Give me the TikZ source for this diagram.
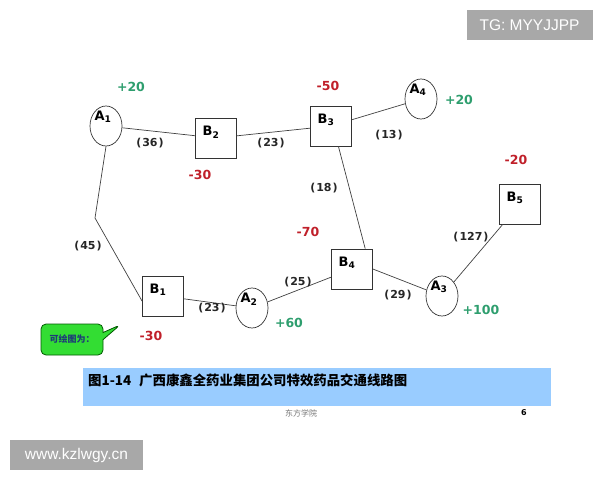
\documentclass[tikz,border=0pt]{standalone}
\usepackage{fontspec}
\setmainfont{DejaVu Sans}
\newfontfamily\cjk{Noto Sans CJK SC}
\newfontfamily\arialf{Liberation Sans}
\usetikzlibrary{shapes.geometric,shapes.callouts}
\definecolor{pgreen}{RGB}{46,158,110}
\definecolor{pred}{RGB}{192,32,42}
\definecolor{capblue}{RGB}{153,204,255}
\definecolor{wmgray}{RGB}{168,168,168}
\definecolor{callgreen}{RGB}{51,221,51}
\definecolor{calltext}{RGB}{30,60,120}
\newcommand{\distval}[1]{(\kern1pt#1\kern1pt)}
\begin{document}
\begin{tikzpicture}[x=1pt,y=-1pt,
  lblf/.style={font=\bfseries\fontsize{13}{13}\selectfont, inner sep=0pt},
  sq/.style={draw=black!80, line width=0.7pt, minimum width=41pt, minimum height=40pt, inner sep=0pt,
     label={[lblf, xshift=-5pt, yshift=6pt]center:#1}},
  el/.style={ellipse, draw=black!80, line width=0.7pt, minimum width=32pt, minimum height=40pt, inner sep=0pt,
     label={[lblf, xshift=-3pt, yshift=9pt]center:#1}},
  numtxt/.style={font=\bfseries\fontsize{12.5}{13}\selectfont, inner sep=0pt},
  plusnum/.style={numtxt, text=pgreen},
  minusnum/.style={numtxt, text=pred},
  dist/.style={font=\bfseries\fontsize{11}{11}\selectfont, text=black!85, inner sep=0pt},
  edgeline/.style={draw=black!75, line width=0.7pt},
  wm/.style={fill=wmgray, text=white, inner sep=0pt, font=\arialf\fontsize{15.5}{16}\selectfont}
]
\useasboundingbox (0,0) rectangle (600,480);
% nodes
\node[el={A\textsubscript{1}}] (A1) at (106,126) {};
\node[sq={B\textsubscript{2}}] (B2) at (216,138) {};
\node[sq={B\textsubscript{3}}] (B3) at (331,126) {};
\node[el={A\textsubscript{4}}] (A4) at (421,99) {};
\node[sq={B\textsubscript{5}}] (B5) at (520,204) {};
\node[sq={B\textsubscript{4}}] (B4) at (352,269) {};
\node[el={A\textsubscript{3}}] (A3) at (442,296) {};
\node[el={A\textsubscript{2}}] (A2) at (252,308) {};
\node[sq={B\textsubscript{1}}] (B1) at (163,296) {};
% edges
\coordinate (bend) at (95,218);
\draw[edgeline] (A1) -- (B2);
\draw[edgeline] (B2) -- (B3);
\draw[edgeline] (B3) -- (A4);
\draw[edgeline] (B3.-70) -- (B4.57);
\draw[edgeline] (A1.south) -- (bend) -- (B1.194);
\draw[edgeline] (B1) -- (A2);
\draw[edgeline] (A2) -- (B4);
\draw[edgeline] (B4.east) -- (A3);
\draw[edgeline] (A3) -- (B5);
% supply / demand
\node[plusnum] (nA1) at (131,87) {+20};
\node[minusnum] (nB3) at (328,86) {-50};
\node[plusnum] (nA4) at (459,100) {+20};
\node[minusnum] (nB2) at (200,175) {-30};
\node[minusnum] (nB5) at (516,160) {-20};
\node[minusnum] (nB4) at (308,232) {-70};
\node[plusnum] (nA3) at (481,310) {+100};
\node[plusnum] (nA2) at (289,323) {+60};
\node[minusnum] (nB1) at (151,336) {-30};
% distances
\node[dist] (d36) at (150,143) {\distval{36}};
\node[dist] (d23a) at (271,143) {\distval{23}};
\node[dist] (d13) at (389,135) {\distval{13}};
\node[dist] (d18) at (324,188) {\distval{18}};
\node[dist] (d45) at (88,246) {\distval{45}};
\node[dist] (d127) at (471,237) {\distval{127}};
\node[dist] (d25) at (298,282) {\distval{25}};
\node[dist] (d29) at (398,295) {\distval{29}};
\node[dist] (d23b) at (212,308) {\distval{23}};
% callout
\node[rectangle callout, draw=green!35!black, line width=0.8pt, fill=callgreen, rounded corners=5pt,
  minimum width=62pt, minimum height=31pt, inner sep=1pt,
  callout absolute pointer={(120,325)},
  font=\cjk\bfseries\fontsize{9}{9}\selectfont, text=calltext] (call) at (72,339.5) {可绘图为：};
% caption
\node[fill=capblue, minimum width=468pt, minimum height=38pt, inner sep=0pt] (capbar) at (317,387) {};
\node[anchor=west, inner sep=0pt, font=\cjk\bfseries\fontsize{13.4}{14}\selectfont] (captext) at (88,380)
  {图1-14\hspace{8pt}广西康鑫全药业集团公司特效药品交通线路图};
\node[inner sep=0pt, text=black!55, font=\cjk\fontsize{8}{8}\selectfont] (school) at (301,413) {东方学院};
\node[inner sep=0pt, font=\bfseries\fontsize{8}{8}\selectfont] (page) at (524,413) {6};
% watermarks
\node[wm, minimum width=126pt, minimum height=30pt] (tg) at (529.5,25) {TG: MYYJJPP};
\node[wm, minimum width=133pt, minimum height=30pt] (www) at (76.5,455) {www.kzlwgy.cn};
\end{tikzpicture}
\end{document}
